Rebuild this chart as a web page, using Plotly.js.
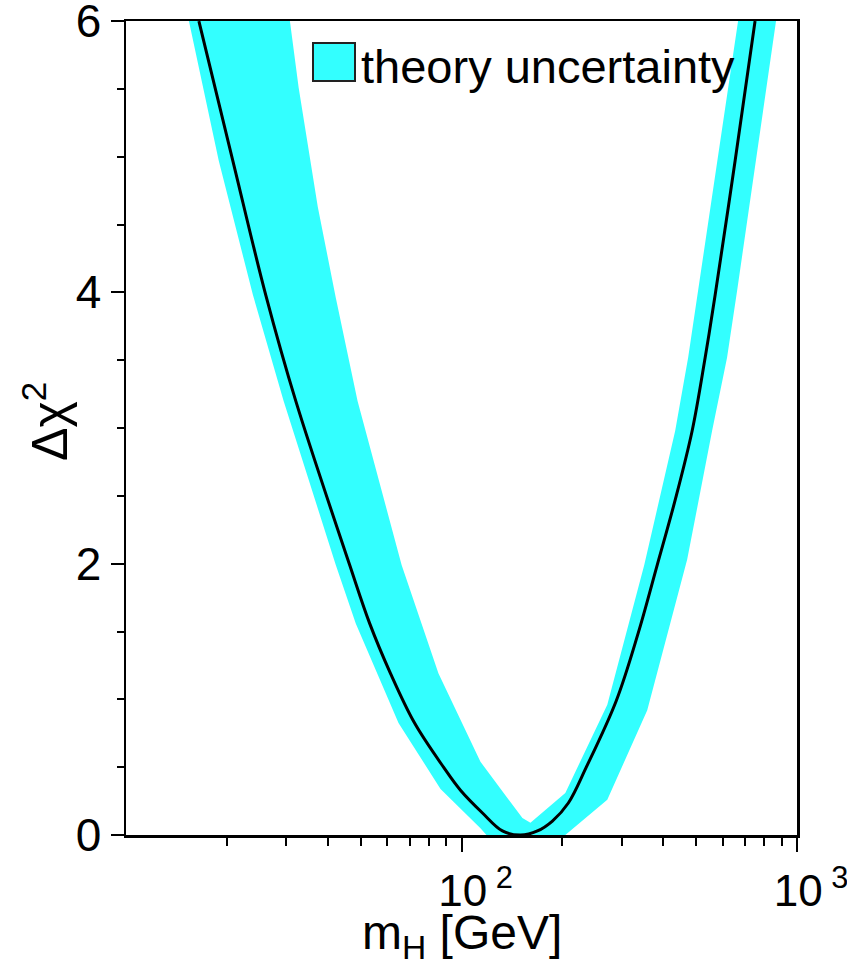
<!DOCTYPE html>
<html>
<head>
<meta charset="utf-8">
<script src="https://cdn.plot.ly/plotly-3.0.1.min.js"></script>
<style>
  html, body { margin: 0; padding: 0; background: #ffffff; }
  #chart { width: 847px; height: 961px; }
</style>
</head>
<body>
<div id="chart"></div>
<script>
// ---- data ----
// central Delta chi^2 curve
const curveMass = [16.49, 20.82, 26.10, 32.06, 46.42, 53.24, 61.46, 72.47, 88.40, 99.3, 115.5, 132.4, 150.0,
                   168.4, 186.6, 208.2, 235.5, 289.3, 336.4, 383.1, 433.5, 487.0, 532.5, 570.2, 654.0, 749.9];
const curveChi2 = [6.0, 4.97, 3.98, 3.20, 1.99, 1.56, 1.19, 0.825, 0.50, 0.33, 0.162, 0.03, 0.0,
                   0.03, 0.103, 0.236, 0.50, 0.99, 1.49, 1.99, 2.47, 2.98, 3.52, 3.98, 4.97, 6.0];

// theory uncertainty band: lower edge (outer) and upper edge (inner)
const bandLowMass = [15.4, 18.9, 23.9, 29.5, 42.2, 48.4, 64.9, 86.6, 113.9, 118.7,
                     203.9, 272.0, 357.8, 470.6, 558.5, 618.9, 662.8, 866.0];
const bandLowChi2 = [6.0, 4.97, 3.98, 3.20, 1.99, 1.56, 0.825, 0.34, 0.05, 0.0,
                     0.0, 0.26, 0.92, 2.03, 2.98, 3.52, 4.01, 6.0];
const bandUpMass  = [30.8, 32.7, 37.3, 42.2, 49.0, 66.3, 85.4, 113.9, 151.9, 160.5,
                     203.9, 272.0, 350.5, 433.5, 473.8, 507.5, 667.4];
const bandUpChi2  = [6.0, 5.51, 4.63, 3.96, 3.20, 1.99, 1.19, 0.54, 0.125, 0.09,
                     0.31, 0.96, 1.99, 2.98, 3.52, 4.01, 6.0];

const xTickVals = [100, 1000];
const xTickText = ['10<sup> 2</sup>', '10<sup> 3</sup>'];
const xMinorVals = [20, 30, 40, 50, 60, 70, 80, 90, 200, 300, 400, 500, 600, 700, 800, 900];
const yTickVals = [0, 2, 4, 6];
const yTickText = ['0', '2', '4', '6'];
const legendLabel = 'theory uncertainty';
const xTitle = 'm<sub>H</sub> [GeV]';
const yTitle = 'Δχ<sup>2</sup>';

// ---- build traces ----
const FONT = 'Liberation Sans, Arial, Helvetica, sans-serif';
const CYAN = '#33ffff';

const bandX = bandLowMass.concat(bandUpMass.slice().reverse());
const bandY = bandLowChi2.concat(bandUpChi2.slice().reverse());

const traces = [
  {
    x: bandX, y: bandY, type: 'scatter', mode: 'lines',
    fill: 'toself', fillcolor: CYAN,
    line: { width: 0, color: CYAN },
    name: legendLabel, hoverinfo: 'skip', showlegend: false
  },
  {
    x: curveMass, y: curveChi2, type: 'scatter', mode: 'lines',
    line: { color: '#000000', width: 3, shape: 'spline', smoothing: 1 },
    showlegend: false, hoverinfo: 'skip'
  }
];

// pixel helpers for placement (plot area: x 126..797, y 21..835)
const L = 126, R = 50, T = 21, B = 126, W = 847, H = 961;
const pw = W - L - R, ph = H - T - B;
const px = v => (v - L) / pw;
const py = v => (H - B - v) / ph;

const layout = {
  width: W, height: H,
  margin: { l: L, r: R, t: T, b: B, pad: 0 },
  paper_bgcolor: '#ffffff', plot_bgcolor: '#ffffff',
  showlegend: false,
  font: { family: FONT, color: '#000000' },
  xaxis: {
    type: 'log', range: [1, 3.00002],
    showgrid: false, zeroline: false,
    showline: true, linecolor: '#000000', linewidth: 2.5, mirror: true,
    ticks: 'outside', ticklen: 14, tickwidth: 2, tickcolor: '#000000',
    tickmode: 'array', tickvals: xTickVals, ticktext: xTickText,
    ticklabelshift: 14, ticklabelstandoff: 2, ticklabeloverflow: 'allow',
    tickfont: { family: FONT, size: 44, color: '#000000' },
    minor: { tickmode: 'array', tickvals: xMinorVals, ticks: 'outside', ticklen: 8, tickwidth: 2, tickcolor: '#000000', showgrid: false }
  },
  yaxis: {
    range: [0, 6.0005],
    showgrid: false, zeroline: false,
    showline: true, linecolor: '#000000', linewidth: 2.5, mirror: true,
    ticks: 'outside', ticklen: 13, tickwidth: 2, tickcolor: '#000000',
    tickmode: 'array', tickvals: yTickVals, ticktext: yTickText,
    ticklabeloverflow: 'allow',
    tickfont: { family: FONT, size: 46, color: '#000000' },
    minor: { tickmode: 'linear', tick0: 0, dtick: 0.5, ticks: 'outside', ticklen: 7, tickwidth: 2, tickcolor: '#000000', showgrid: false }
  },
  shapes: [
    { type: 'rect', xref: 'paper', yref: 'paper',
      x0: px(313), x1: px(355), y0: py(81), y1: py(43),
      fillcolor: CYAN, line: { color: '#222222', width: 2 } }
  ],
  annotations: [
    { text: legendLabel, xref: 'paper', yref: 'paper', x: px(359), y: py(67),
      xanchor: 'left', yanchor: 'middle', showarrow: false,
      font: { family: FONT, size: 47, color: '#000000' } },
    { text: xTitle, xref: 'paper', yref: 'paper', x: px(462), y: py(936),
      xanchor: 'center', yanchor: 'middle', showarrow: false,
      font: { family: FONT, size: 48, color: '#000000' } },
    { text: yTitle, xref: 'paper', yref: 'paper', x: px(46), y: py(422),
      xanchor: 'center', yanchor: 'middle', showarrow: false, textangle: -90,
      font: { family: FONT, size: 50, color: '#000000' } }
  ]
};

Plotly.newPlot('chart', traces, layout, { displayModeBar: false, staticPlot: true });
</script>
</body>
</html>
